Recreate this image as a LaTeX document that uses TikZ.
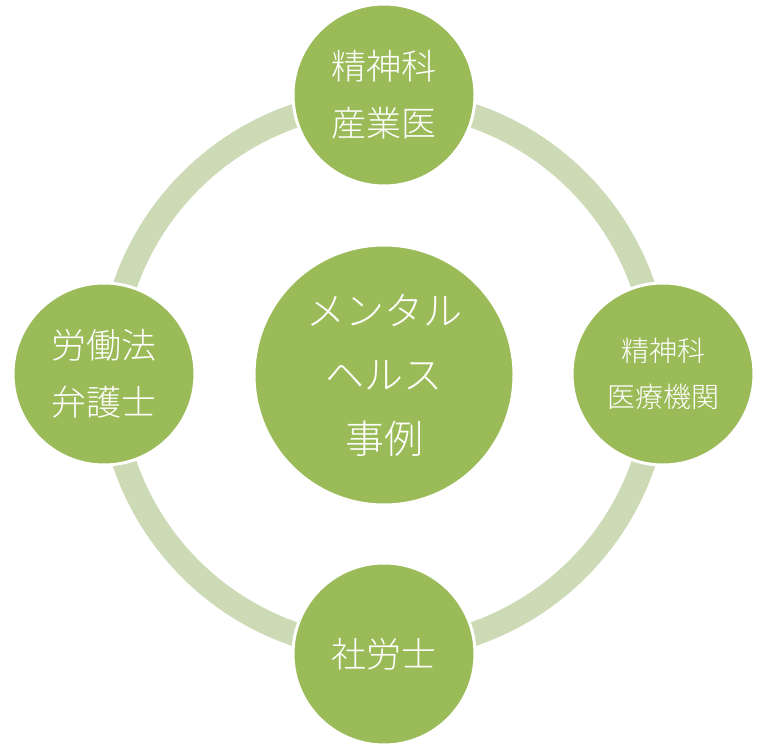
\documentclass[tikz,border=0pt]{standalone}
\usepackage{fontspec}
\newfontfamily\jp{Noto Sans CJK JP Light}
\definecolor{cgreen}{HTML}{9BBB59}
\definecolor{cring}{HTML}{CDDAB6}
\begin{document}
\begin{tikzpicture}[x=1pt,y=-1pt,
  bub/.style={circle,fill=cgreen,draw=white,line width=3pt,inner sep=0pt,text=white,align=center,font=\jp},
  ringstyle/.style={draw=cring,line width=24pt}]
\useasboundingbox (0,0) rectangle (770,754);
\coordinate (c) at (384,375);
\draw[ringstyle] (c) circle[radius=274];
\node[bub,minimum size=260pt,font=\jp\fontsize{39}{64}\selectfont] (center) at (384,375) {メンタル\\ヘルス\\事例};
\node[bub,minimum size=182pt,font=\jp\fontsize{35}{57}\selectfont] (top) at (384,95) {精神科\\産業医};
\node[bub,minimum size=182pt,font=\jp\fontsize{28}{46}\selectfont] (right) at (663,374) {精神科\\医療機関};
\node[bub,minimum size=182pt,font=\jp\fontsize{35}{57}\selectfont] (bottom) at (384,654) {社労士};
\node[bub,minimum size=182pt,font=\jp\fontsize{35}{57}\selectfont] (left) at (104,374) {労働法\\弁護士};
\end{tikzpicture}
\end{document}
